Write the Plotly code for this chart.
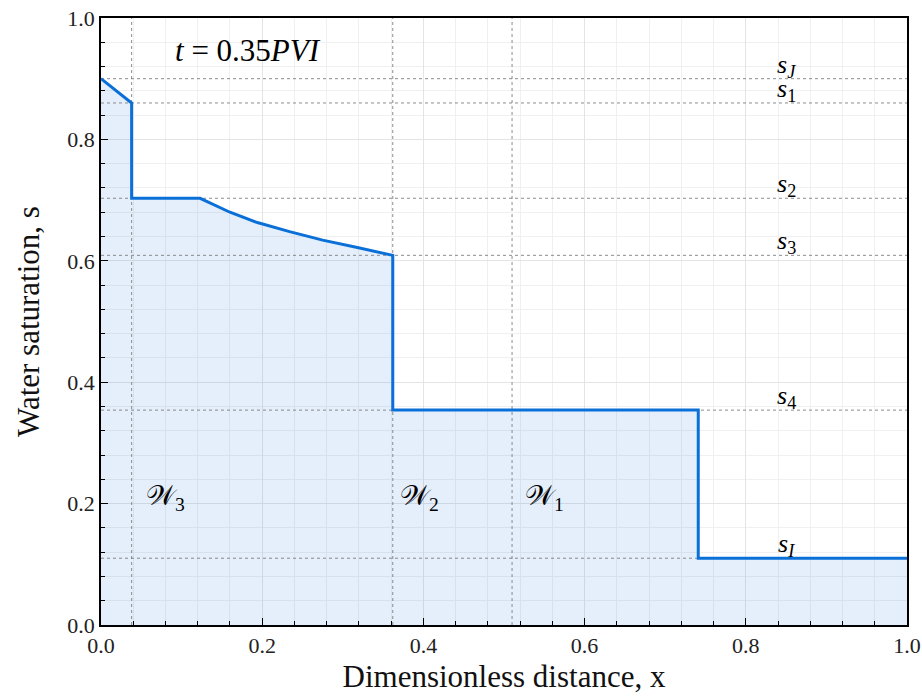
import plotly.graph_objects as go

# Saturation profile at t = 0.35 PVI
x_profile = [0.0, 0.038, 0.038, 0.123, 0.160, 0.194, 0.234, 0.275, 0.318, 0.359, 0.362, 0.362, 0.741, 0.741, 1.0]
s_profile = [0.90, 0.86, 0.703, 0.703, 0.680, 0.663, 0.648, 0.634, 0.622, 0.611, 0.609, 0.354, 0.354, 0.110, 0.110]

# Reference saturation levels
s_levels = [0.90, 0.86, 0.703, 0.609, 0.354, 0.110]
s_labels = ["J", "1", "2", "3", "4", "I"]
s_label_x = 0.85

# Reference wave positions
x_levels = [0.038, 0.362, 0.51]

# Region labels
w_names = ["3", "2", "1"]
w_x = [0.08, 0.395, 0.55]
w_y = [0.21, 0.21, 0.21]

x_ticks = [0.0, 0.2, 0.4, 0.6, 0.8, 1.0]
y_ticks = [0.0, 0.2, 0.4, 0.6, 0.8, 1.0]

LINE = "#0a70d8"
FONT = "Liberation Serif"

fig = go.Figure()

fig.add_trace(go.Scatter(x=x_profile, y=s_profile, mode="lines", line=dict(width=0),
                         fill="tozeroy", fillcolor="rgba(10,112,216,0.11)", hoverinfo="skip",
                         showlegend=False))

for s in s_levels:
    fig.add_trace(go.Scatter(x=[0, 1], y=[s, s], mode="lines",
                             line=dict(color="rgba(120,120,120,0.85)", width=1, dash="dot"),
                             showlegend=False, hoverinfo="skip"))
for xv in x_levels:
    fig.add_trace(go.Scatter(x=[xv, xv], y=[0, 1], mode="lines",
                             line=dict(color="rgba(120,120,120,0.85)", width=1, dash="dot"),
                             showlegend=False, hoverinfo="skip"))

fig.add_trace(go.Scatter(x=x_profile, y=s_profile, mode="lines",
                         line=dict(color=LINE, width=3), showlegend=False))

for s, lab in zip(s_levels, s_labels):
    sub = f"<i>{lab}</i>" if lab.isalpha() else lab
    fig.add_annotation(x=s_label_x, y=s, xref="x", yref="y",
                       text=f"<i>s</i><sub>{sub}</sub>",
                       showarrow=False, xanchor="center", yanchor="bottom", yshift=-5,
                       font=dict(family=FONT, size=26, color="black"))

for name, xv, yv in zip(w_names, w_x, w_y):
    fig.add_annotation(x=xv, y=yv, xref="x", yref="y",
                       text=f"\U0001D4B2<sub>{name}</sub>",
                       showarrow=False, xanchor="center", yanchor="middle",
                       font=dict(family=FONT, size=28, color="black"))

fig.add_annotation(x=0.182, y=0.947, xref="x", yref="y",
                   text="<i>t</i> = 0.35<i>PVI</i>", showarrow=False,
                   xanchor="center", yanchor="middle",
                   font=dict(family=FONT, size=31, color="black"))

axis_common = dict(
    showline=True, linecolor="black", linewidth=1.5, mirror=True,
    ticks="inside", ticklen=7, tickwidth=1.3, tickcolor="black",
    showgrid=True, gridcolor="#e4e4e4", gridwidth=1,
    zeroline=False, tickformat=".1f", automargin=False, ticklabeloverflow="allow",
    tickfont=dict(family=FONT, size=22, color="#222"),
    minor=dict(dtick=0.04, ticks="inside", ticklen=4, tickwidth=1, tickcolor="black",
               showgrid=True, gridcolor="#f0f0f0", gridwidth=1),
)

fig.update_xaxes(range=[0, 1], tickvals=x_ticks,
                 title=dict(text="Dimensionless distance, x", font=dict(family=FONT, size=31, color="#111"), standoff=8),
                 **axis_common)
fig.update_yaxes(range=[0, 1], tickvals=y_ticks,
                 title=dict(text="Water saturation, s", font=dict(family=FONT, size=31, color="#111"), standoff=18),
                 **axis_common)

fig.update_layout(width=922, height=696, margin=dict(l=101, r=15, t=18, b=71),
                  plot_bgcolor="white", paper_bgcolor="white", showlegend=False)

fig.write_html("out.html")
